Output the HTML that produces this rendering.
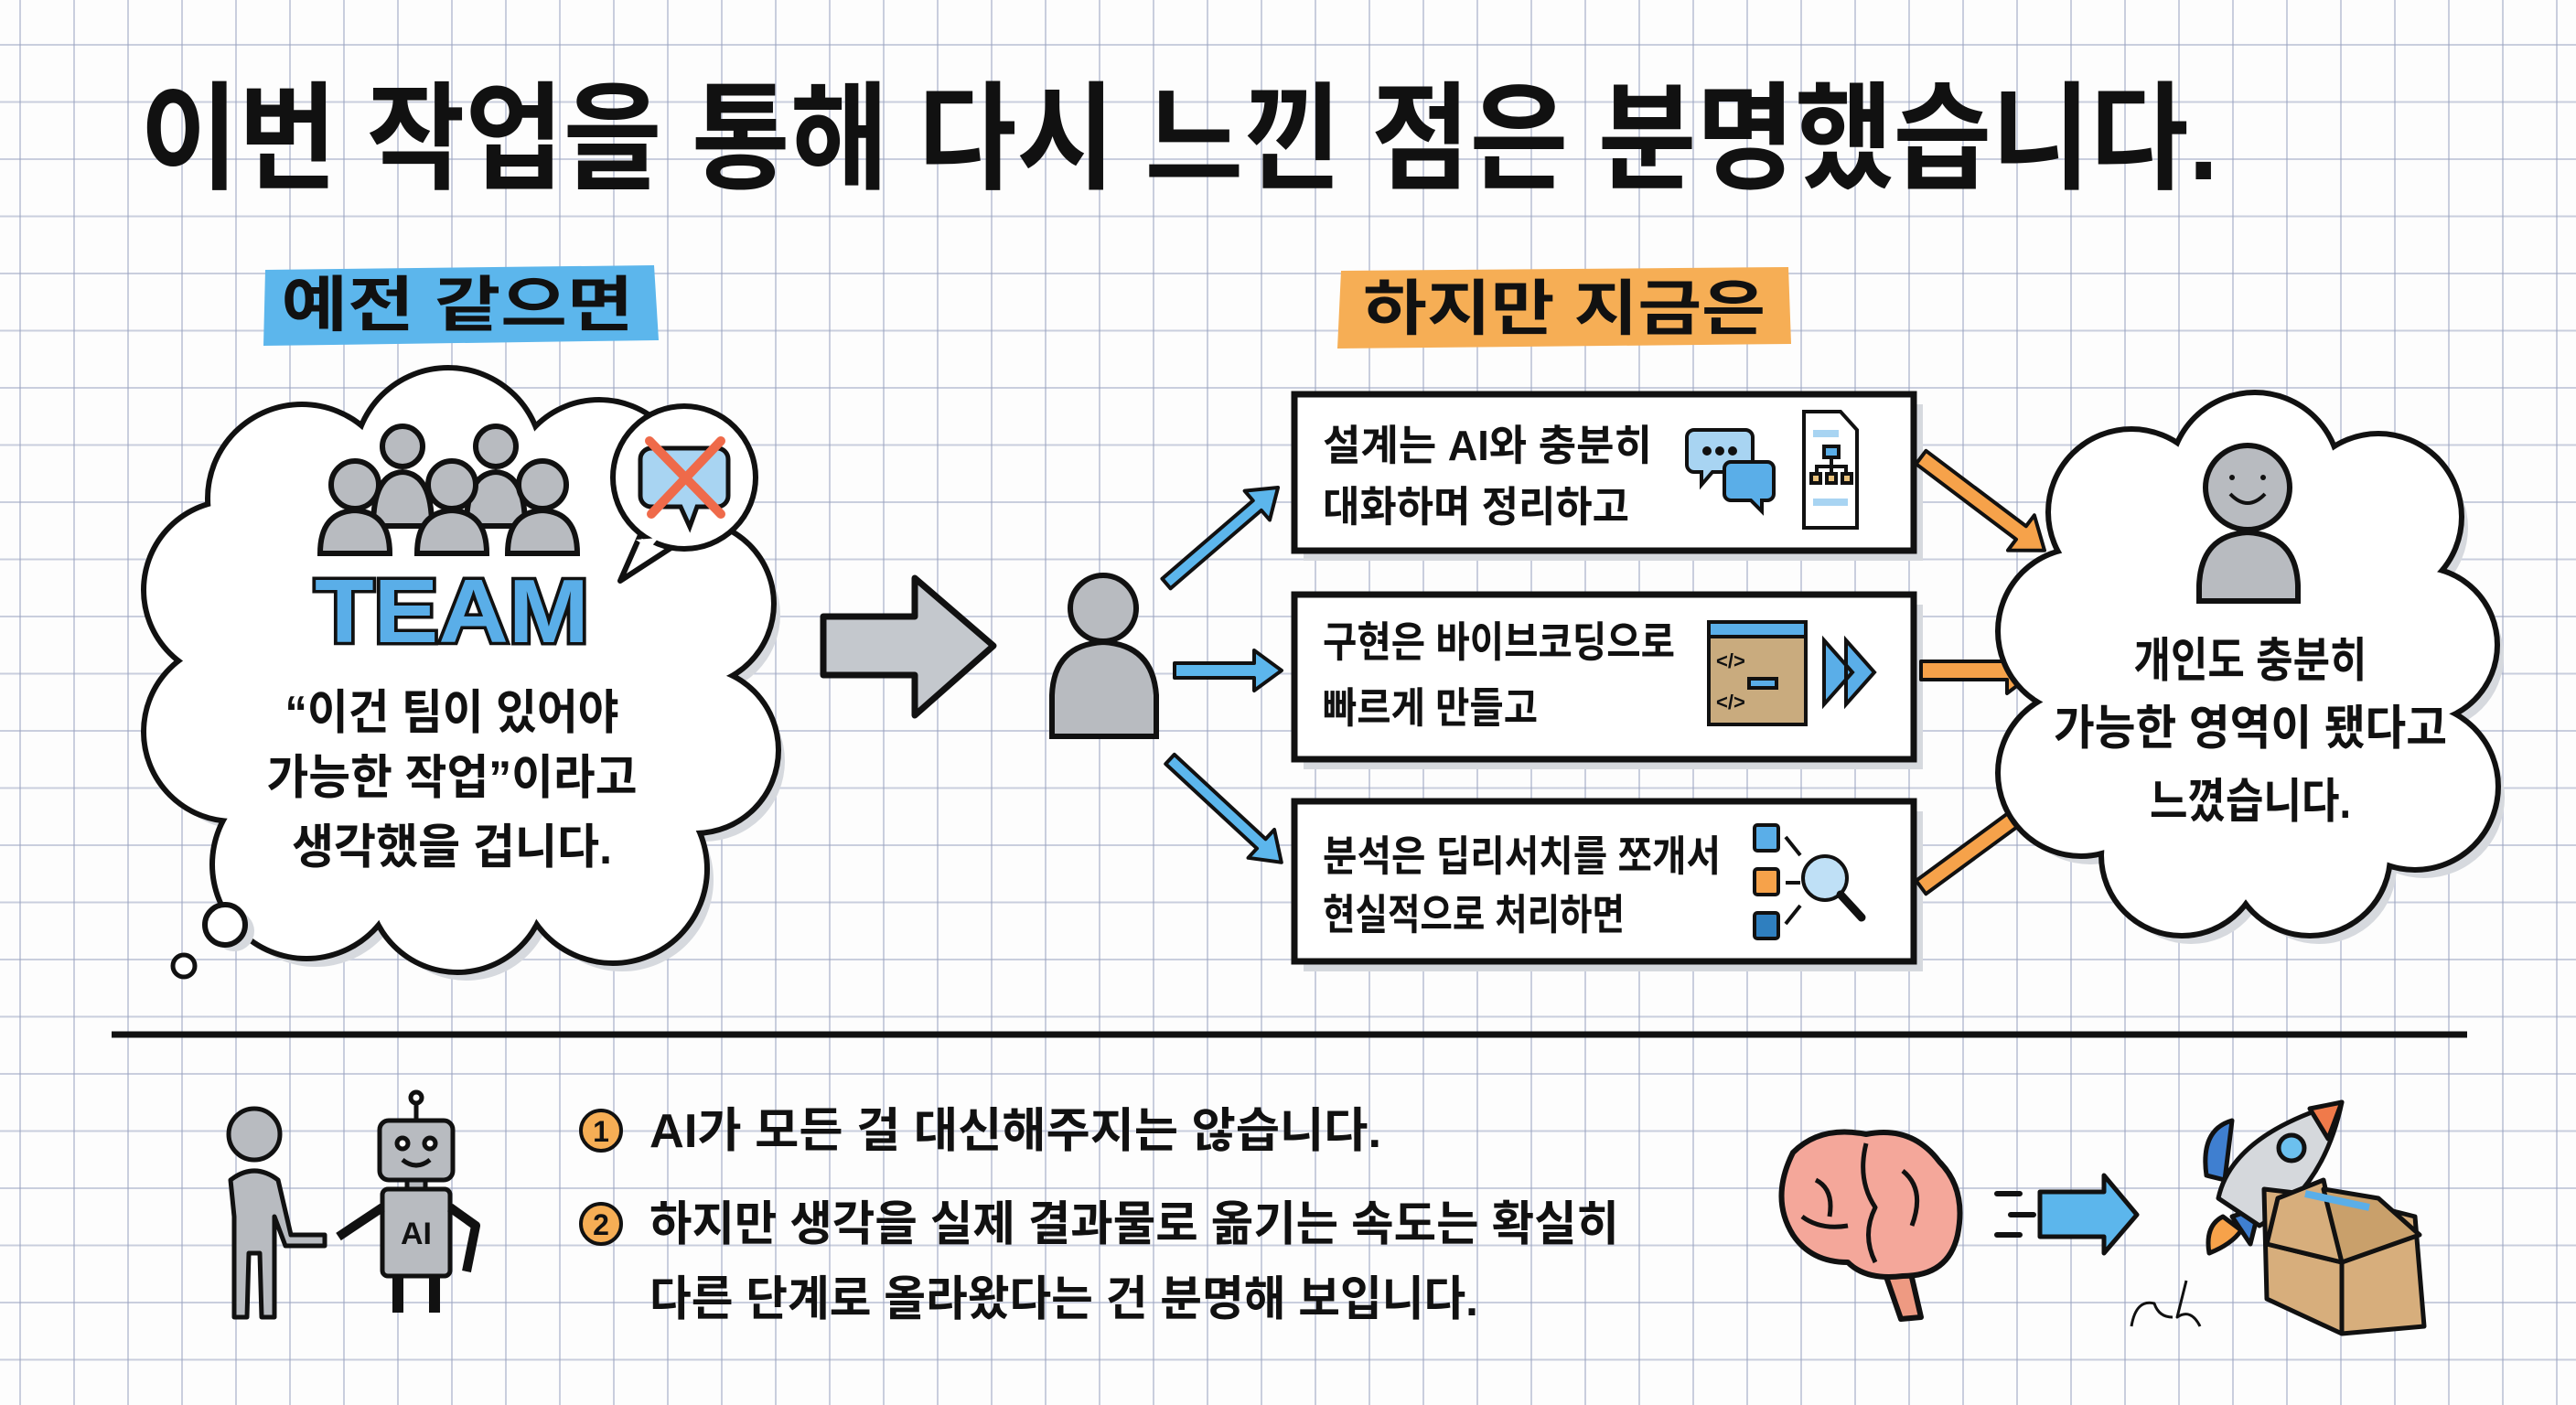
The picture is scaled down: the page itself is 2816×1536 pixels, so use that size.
<!DOCTYPE html>
<html><head><meta charset="utf-8">
<style>
html,body{margin:0;padding:0;}
body{width:2816px;height:1536px;overflow:hidden;background-color:#fdfdfd;
background-image:linear-gradient(to right, rgba(150,160,190,.5) 2px, transparent 2px),linear-gradient(to bottom, rgba(150,160,190,.5) 2px, transparent 2px);
background-size:59px 62.5px;background-position:21px 48px;}
svg{position:absolute;left:0;top:0;}
text{font-family:"Liberation Sans","Noto Sans CJK KR",sans-serif;font-weight:bold;fill:#111;}
</style></head><body>
<svg width="2816" height="1536" viewBox="0 0 2816 1536">
<defs>
<g id="lc">
<ellipse cx="500" cy="730" rx="260" ry="250"/>
<circle cx="330" cy="545" r="100"/><circle cx="490" cy="505" r="100"/><circle cx="655" cy="535" r="95"/>
<circle cx="755" cy="660" r="88"/><circle cx="760" cy="820" r="88"/><circle cx="670" cy="950" r="100"/>
<circle cx="500" cy="965" r="95"/><circle cx="335" cy="945" r="100"/><circle cx="255" cy="800" r="95"/><circle cx="255" cy="645" r="95"/>
</g>
<g id="rc">
<ellipse cx="2460" cy="728" rx="215" ry="225"/>
<circle cx="2330" cy="560" r="88"/><circle cx="2465" cy="522" r="90"/><circle cx="2600" cy="565" r="88"/>
<circle cx="2645" cy="705" r="82"/><circle cx="2640" cy="860" r="88"/><circle cx="2525" cy="935" r="85"/>
<circle cx="2385" cy="935" r="85"/><circle cx="2275" cy="845" r="88"/><circle cx="2275" cy="690" r="88"/>
</g>
</defs>

<!-- Title -->
<text x="153" y="196" font-size="128" textLength="2272" lengthAdjust="spacingAndGlyphs">이번 작업을 통해 다시 느낀 점은 분명했습니다.</text>

<!-- highlights -->
<path d="M290 295 L715 290 L720 372 L288 378 Z" fill="#5cb6ec"/>
<text x="500" y="356" font-size="66" text-anchor="middle" textLength="385" lengthAdjust="spacingAndGlyphs">예전 같으면</text>
<path d="M1466 296 L1955 292 L1958 376 L1462 381 Z" fill="#f6ae55"/>
<text x="1710" y="360" font-size="66" text-anchor="middle" textLength="440" lengthAdjust="spacingAndGlyphs">하지만 지금은</text>

<!-- Left cloud -->
<g fill="#d6d9de" transform="translate(10,12)"><use href="#lc"/></g>
<g fill="#111" stroke="#111" stroke-width="12"><use href="#lc"/></g>
<g fill="#fff"><use href="#lc"/></g>
<circle cx="256" cy="1018" r="22" fill="#d6d9de"/>
<circle cx="246" cy="1011" r="22" fill="#fff" stroke="#111" stroke-width="6"/>
<circle cx="201" cy="1056" r="12" fill="#fff" stroke="#111" stroke-width="5"/>

<!-- people -->
<g stroke="#111" stroke-width="6" fill="#b8bbc0">
<circle cx="440" cy="488" r="22"/><path d="M408 575 Q408 518 440 516 Q472 518 472 575 Z"/>
<circle cx="542" cy="488" r="22"/><path d="M510 575 Q510 518 542 516 Q574 518 574 575 Z"/>
<circle cx="388" cy="530" r="26"/><path d="M350 605 Q350 560 388 558 Q426 560 426 605 Z"/>
<circle cx="494" cy="530" r="26"/><path d="M456 605 Q456 560 494 558 Q532 560 532 605 Z"/>
<circle cx="593" cy="530" r="26"/><path d="M555 605 Q555 560 593 558 Q631 560 631 605 Z"/>
</g>
<text x="494" y="702" font-size="98" text-anchor="middle" stroke="#111" stroke-width="7" paint-order="stroke" textLength="300" lengthAdjust="spacingAndGlyphs" style="fill:#5aaee8">TEAM</text>

<!-- X bubble -->
<g>
<path d="M700 585 L678 635 L735 598 Z" fill="#fff" stroke="#111" stroke-width="6" stroke-linejoin="round"/>
<circle cx="748" cy="522" r="78" fill="#fff" stroke="#111" stroke-width="6"/>
<path d="M695 590 L720 588 L710 600 Z" fill="#fff"/>
<path d="M712 490 h72 a12 12 0 0 1 12 12 v40 a12 12 0 0 1 -12 12 h-22 l-8 22 l-10 -22 h-32 a12 12 0 0 1 -12 -12 v-40 a12 12 0 0 1 12 -12 z" fill="#a8d4f2" stroke="#111" stroke-width="5"/>
<path d="M710 482 L788 562 M788 482 L712 562" stroke="#ef6a4a" stroke-width="10" stroke-linecap="round"/>
</g>

<!-- left cloud text -->
<text x="494" y="797" font-size="52" text-anchor="middle" textLength="365" lengthAdjust="spacingAndGlyphs">“이건 팀이 있어야</text>
<text x="494" y="868" font-size="52" text-anchor="middle" textLength="405" lengthAdjust="spacingAndGlyphs">가능한 작업”이라고</text>
<text x="494" y="944" font-size="52" text-anchor="middle" textLength="350" lengthAdjust="spacingAndGlyphs">생각했을 겁니다.</text>

<!-- big gray arrow -->
<path d="M900 674 L1000 674 L1000 632 L1086 706 L1000 782 L1000 738 L900 738 Z" fill="#c4c8cd" stroke="#111" stroke-width="7" stroke-linejoin="round"/>

<!-- left person -->
<g stroke="#111" stroke-width="6" fill="#b8bbc0">
<circle cx="1206" cy="665" r="36"/>
<path d="M1150 805 L1150 760 Q1152 705 1206 702 Q1260 705 1264 760 L1264 805 Z"/>
</g>

<!-- blue arrows -->
<g stroke="#111" stroke-width="4" fill="#5cb6ec" stroke-linejoin="round">
<path transform="translate(1275,638) rotate(-40.7)" d="M0 -7 L131 -7 L131 -21 L161 0 L131 21 L131 7 L0 7 Z"/>
<path transform="translate(1284,733)" d="M0 -8 L87 -8 L87 -22 L117 0 L87 22 L87 8 L0 8 Z"/>
<path transform="translate(1279,830) rotate(42.8)" d="M0 -7 L136 -7 L136 -21 L166 0 L136 21 L136 7 L0 7 Z"/>
</g>

<!-- boxes -->
<g fill="#d6d9de"><rect x="1425" y="442" width="677" height="171"/><rect x="1425" y="661" width="677" height="180"/><rect x="1425" y="887" width="677" height="175"/></g>
<g fill="#fff" stroke="#111" stroke-width="7">
<rect x="1415" y="431" width="677" height="171"/>
<rect x="1415" y="650" width="677" height="180"/>
<rect x="1415" y="876" width="677" height="175"/>
</g>
<text x="1446" y="503" font-size="46" textLength="360" lengthAdjust="spacingAndGlyphs">설계는 AI와 충분히</text>
<text x="1446" y="570" font-size="46" textLength="335" lengthAdjust="spacingAndGlyphs">대화하며 정리하고</text>
<text x="1446" y="718" font-size="46" textLength="385" lengthAdjust="spacingAndGlyphs">구현은 바이브코딩으로</text>
<text x="1446" y="790" font-size="46" textLength="235" lengthAdjust="spacingAndGlyphs">빠르게 만들고</text>
<text x="1446" y="952" font-size="46" textLength="435" lengthAdjust="spacingAndGlyphs">분석은 딥리서치를 쪼개서</text>
<text x="1446" y="1016" font-size="46" textLength="330" lengthAdjust="spacingAndGlyphs">현실적으로 처리하면</text>

<!-- box1 icons -->
<g stroke="#111" stroke-width="4">
<path d="M1852 470 h56 a8 8 0 0 1 8 8 v30 a8 8 0 0 1 -8 8 h-36 l-12 14 v-14 h-8 a8 8 0 0 1 -8 -8 v-30 a8 8 0 0 1 8 -8z" fill="#a8d4f2"/>
<path d="M1892 505 h40 a7 7 0 0 1 7 7 v28 a7 7 0 0 1 -7 7 h-6 v12 l-12 -12 h-22 a7 7 0 0 1 -7 -7 v-28 a7 7 0 0 1 7 -7z" fill="#5aaee8"/>
<circle cx="1866" cy="493" r="3" fill="#111"/><circle cx="1880" cy="493" r="3" fill="#111"/><circle cx="1894" cy="493" r="3" fill="#111"/>
<path d="M1972 450 h40 l18 20 v107 h-58 z" fill="#fff"/>
<rect x="1982" y="470" width="28" height="8" fill="#a8d4f2" stroke="none"/>
<rect x="1994" y="488" width="16" height="12" fill="#5aaee8"/>
<path d="M2002 500 v10 M1986 518 v-8 h32 v8 M2002 510 v8" fill="none"/>
<rect x="1980" y="518" width="10" height="10" fill="#e8c07a"/><rect x="1997" y="518" width="10" height="10" fill="#e8c07a"/><rect x="2014" y="518" width="10" height="10" fill="#e8c07a"/>
<rect x="1982" y="545" width="38" height="8" fill="#a8d4f2" stroke="none"/>
</g>
<!-- box2 icons -->
<g stroke="#111" stroke-width="4">
<rect x="1868" y="680" width="106" height="112" fill="#c9ab7e"/>
<rect x="1868" y="680" width="106" height="16" fill="#5aaee8"/>
<text x="1876" y="730" font-size="22" stroke="none">&lt;/&gt;</text>
<text x="1876" y="775" font-size="22" stroke="none">&lt;/&gt;</text>
<rect x="1912" y="742" width="30" height="10" fill="#5aaee8"/>
<path d="M1994 700 L2025 735 L1994 770 Z M2018 700 L2049 735 L2018 770 Z" fill="#5aaee8"/>
</g>
<!-- box3 icons -->
<g stroke="#111" stroke-width="4">
<rect x="1918" y="902" width="26" height="28" rx="3" fill="#5aaee8"/>
<rect x="1918" y="950" width="26" height="28" rx="3" fill="#f6a24a"/>
<rect x="1918" y="998" width="26" height="28" rx="3" fill="#2f7fbf"/>
<path d="M1952 915 L1968 935 M1952 965 L1968 965 M1952 1010 L1968 990" fill="none"/>
<circle cx="1995" cy="960" r="24" fill="#bfe0f6"/>
<path d="M2012 978 L2035 1003" stroke-width="9" stroke-linecap="round"/>
</g>

<!-- orange arrows -->
<g stroke="#111" stroke-width="4" fill="#f6a24a" stroke-linejoin="round">
<path transform="translate(2100,500) rotate(37)" d="M0 -9 L137 -9 L137 -24 L169 0 L137 24 L137 9 L0 9 Z"/>
<path transform="translate(2100,733)" d="M0 -10 L94 -10 L94 -25 L127 0 L94 25 L94 10 L0 10 Z"/>
<path transform="translate(2100,970) rotate(-36.3)" d="M0 -9 L135 -9 L135 -24 L167 0 L135 24 L135 9 L0 9 Z"/>
</g>

<!-- right cloud -->
<g fill="#d6d9de" transform="translate(10,12)"><use href="#rc"/></g>
<g fill="#111" stroke="#111" stroke-width="12"><use href="#rc"/></g>
<g fill="#fff"><use href="#rc"/></g>
<g stroke="#111" stroke-width="6" fill="#b8bbc0">
<circle cx="2457" cy="533" r="46"/>
<path d="M2404 657 L2404 640 Q2406 585 2457 582 Q2510 585 2512 640 L2512 657 Z"/>
</g>
<path d="M2438 540 Q2457 560 2476 540" fill="none" stroke="#111" stroke-width="4"/>
<circle cx="2440" cy="522" r="3" fill="#111"/><circle cx="2474" cy="522" r="3" fill="#111"/>
<text x="2460" y="740" font-size="52" text-anchor="middle" textLength="255" lengthAdjust="spacingAndGlyphs">개인도 충분히</text>
<text x="2460" y="814" font-size="52" text-anchor="middle" textLength="430" lengthAdjust="spacingAndGlyphs">가능한 영역이 됐다고</text>
<text x="2460" y="894" font-size="52" text-anchor="middle" textLength="220" lengthAdjust="spacingAndGlyphs">느꼈습니다.</text>

<!-- separator -->
<path d="M122 1131 L2697 1131" stroke="#111" stroke-width="7"/>

<!-- person & robot -->
<g stroke="#111" stroke-width="5" fill="#b8bbc0" stroke-linejoin="round">
<circle cx="278" cy="1240" r="28"/>
<path d="M252 1290 Q278 1270 304 1290 L318 1350 L355 1350 L355 1362 L312 1362 L300 1330 L300 1440 L286 1440 L284 1370 L272 1370 L270 1440 L256 1440 L256 1330 Z"/>
<path d="M455 1205 v20" fill="none"/><circle cx="455" cy="1200" r="6" fill="#fff"/>
<rect x="415" y="1225" width="80" height="65" rx="10"/>
<circle cx="440" cy="1250" r="6" fill="#fff"/><circle cx="470" cy="1250" r="6" fill="#fff"/>
<path d="M440 1268 Q455 1280 470 1268" fill="none"/>
<rect x="445" y="1290" width="20" height="10"/>
<rect x="418" y="1300" width="74" height="95" rx="6"/>
<path d="M418 1320 L370 1352 M492 1320 L520 1340 L510 1390" fill="none" stroke-width="10"/>
<path d="M435 1395 v40 M475 1395 v40" fill="none" stroke-width="12"/>
</g>
<text x="455" y="1360" font-size="34" text-anchor="middle">AI</text>

<!-- bottom text -->
<circle cx="657" cy="1236" r="22" fill="#f6ae55" stroke="#111" stroke-width="4"/>
<text x="657" y="1248" font-size="32" text-anchor="middle">1</text>
<text x="710" y="1254" font-size="52" textLength="800" lengthAdjust="spacingAndGlyphs">AI가 모든 걸 대신해주지는 않습니다.</text>
<circle cx="657" cy="1338" r="22" fill="#f6ae55" stroke="#111" stroke-width="4"/>
<text x="657" y="1350" font-size="32" text-anchor="middle">2</text>
<text x="710" y="1356" font-size="52" textLength="1060" lengthAdjust="spacingAndGlyphs">하지만 생각을 실제 결과물로 옮기는 속도는 확실히</text>
<text x="710" y="1438" font-size="52" textLength="906" lengthAdjust="spacingAndGlyphs">다른 단계로 올라왔다는 건 분명해 보입니다.</text>

<!-- brain -->
<g stroke="#111" stroke-width="6" stroke-linejoin="round">
<path d="M2085 1375 L2100 1440 L2078 1442 L2060 1390 Z" fill="#ee9a82"/>
<path d="M1960 1260 Q1990 1230 2040 1240 Q2090 1230 2120 1270 Q2150 1300 2140 1350 Q2130 1395 2080 1395 Q2040 1400 2020 1380 Q1980 1380 1960 1350 Q1935 1310 1960 1260 Z" fill="#f4a79a"/>
<path d="M2040 1250 Q2030 1290 2050 1320 Q2035 1350 2050 1380 M1985 1290 Q2005 1300 2000 1330 M2080 1280 Q2105 1300 2090 1340 M1970 1330 Q1990 1345 2020 1340" fill="none" stroke-width="5"/>
</g>
<!-- speed arrow -->
<g>
<path d="M2230 1303 L2300 1303 L2300 1285 L2336 1328 L2300 1370 L2300 1352 L2230 1352 Z" fill="#5cb6ec" stroke="#111" stroke-width="5" stroke-linejoin="round"/>
<path d="M2183 1305 h25 M2198 1328 h25 M2183 1350 h25" stroke="#111" stroke-width="6" stroke-linecap="round"/>
</g>
<!-- rocket -->
<g stroke="#111" stroke-width="5" stroke-linejoin="round">
<path d="M2412 1285 Q2405 1235 2440 1225 L2432 1290 Z" fill="#3f7fd0"/>
<path d="M2440 1330 L2460 1360 L2470 1320 Z" fill="#3f7fd0"/>
<path d="M2425 1310 Q2440 1240 2560 1205 Q2540 1300 2470 1340 Z" fill="#d5d8dc"/>
<path d="M2525 1212 L2560 1205 L2545 1245 Z" fill="#f07a4a"/>
<circle cx="2505" cy="1255" r="14" fill="#6cc0ee"/>
<path d="M2430 1330 Q2410 1340 2415 1370 Q2440 1360 2450 1345 Z" fill="#f6a24a"/>
<path d="M2475 1300 L2560 1310 L2640 1330 L2650 1450 L2560 1458 L2478 1420 Z" fill="#d7ae7c"/>
<path d="M2478 1360 L2560 1380 L2640 1350 M2560 1380 L2560 1458" fill="none"/>
<path d="M2478 1360 L2490 1310 L2540 1290 L2560 1380 Z" fill="#d7ae7c"/>
<path d="M2560 1380 L2645 1350 L2600 1310 L2540 1300 Z" fill="#c9a06b"/>
<path d="M2520 1305 L2590 1320" stroke="#5aaee8" stroke-width="8"/>
<path d="M2330 1450 Q2335 1420 2355 1425 Q2360 1440 2375 1440 M2390 1400 L2380 1440 Q2395 1430 2405 1450" fill="none" stroke-width="3"/>
</g>
</svg>
</body></html>
